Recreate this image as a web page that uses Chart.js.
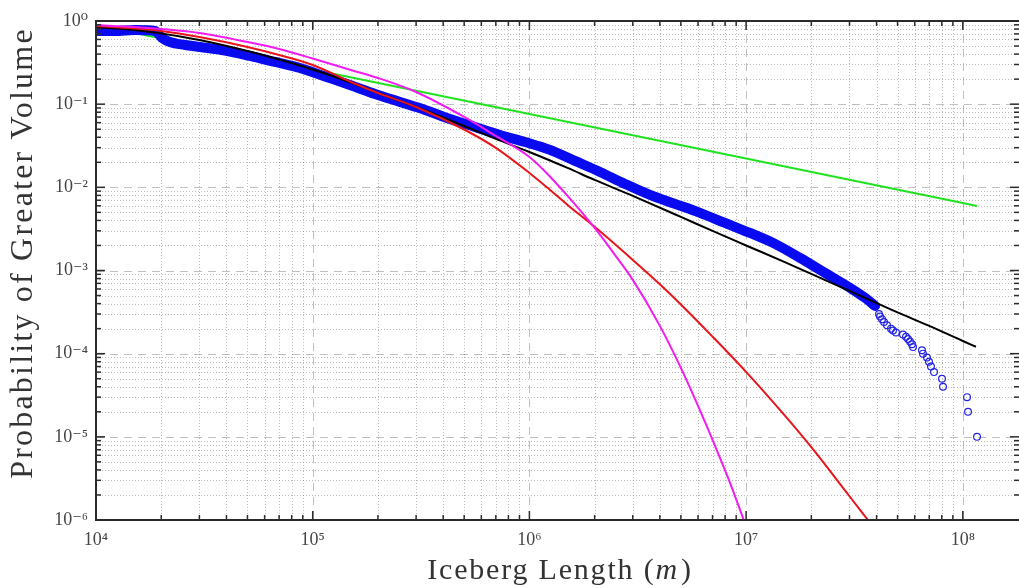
<!DOCTYPE html>
<html><head><meta charset="utf-8">
<script src="https://cdn.jsdelivr.net/npm/chart.js@4.4.1/dist/chart.umd.min.js"></script>
<style>html,body{margin:0;padding:0;background:#fff}#wrap{width:1019px;height:588px}</style>
</head><body><div id="wrap"><canvas id="c" width="1019" height="588"></canvas></div>
<script>
// ---- tick labels ----
const xTickValues = [1e4, 1e5, 1e6, 1e7, 1e8];
const xTickLabels = ['10⁴', '10⁵', '10⁶', '10⁷', '10⁸'];
const yTickValues = [1e-6, 1e-5, 1e-4, 1e-3, 1e-2, 1e-1, 1];
const yTickLabels = ['10⁻⁶', '10⁻⁵', '10⁻⁴', '10⁻³', '10⁻²', '10⁻¹', '10⁰'];
const xTitle = ['Iceberg Length (', 'm', ')'];
const yTitle = 'Probability of Greater Volume';

// ---- empirical data (dense part) ----
const dataLength = [1.0e4, 1.224e4, 1.514e4, 1.872e4, 2.017e4, 2.195e4, 2.575e4, 3.020e4, 3.938e4, 5.136e4,
  6.699e4, 8.738e4, 1.140e5, 1.486e5, 1.939e5, 2.529e5, 3.298e5, 4.301e5, 5.610e5, 7.317e5,
  9.544e5, 1.245e6, 1.623e6, 2.117e6, 2.762e6, 3.602e6, 4.698e6, 6.128e6, 7.992e6, 1.042e7,
  1.360e7, 1.773e7, 2.313e7, 3.017e7, 3.538e7, 3.934e7];
const dataProb = [0.758, 0.758, 0.779, 0.758, 0.625, 0.559, 0.515, 0.487, 0.442, 0.380,
  0.3215, 0.2723, 0.2153, 0.1701, 0.1326, 0.1063, 0.0852, 0.0664, 0.0532, 0.0426,
  0.0351, 0.0282, 0.02077, 0.01531, 0.01099, 0.00810, 0.00632, 0.00493, 0.00373, 0.00283,
  0.00209, 0.001417, 0.000936, 0.000618, 0.000469, 0.000375];

// ---- empirical data (sparse tail) ----
const tailLength = [4.105e7, 4.149e7, 4.238e7, 4.329e7, 4.469e7, 4.664e7, 4.764e7, 4.918e7, 5.297e7, 5.470e7,
  5.587e7, 5.706e7, 5.829e7, 5.891e7, 6.480e7, 6.550e7, 6.834e7, 6.982e7, 7.132e7, 7.364e7,
  8.017e7, 8.103e7, 1.046e8, 1.057e8, 1.163e8];
const tailProb = [3.0e-4, 2.8e-4, 2.6e-4, 2.4e-4, 2.2e-4, 2.0e-4, 1.9e-4, 1.8e-4, 1.7e-4, 1.6e-4,
  1.5e-4, 1.4e-4, 1.3e-4, 1.2e-4, 1.1e-4, 1.0e-4, 9e-5, 8e-5, 7e-5, 6e-5,
  5e-5, 4e-5, 3e-5, 2e-5, 1e-5];

// ---- fitted curves ----
const blackX = [1e4, 1.5e4, 2e4, 3e4, 5e4, 7e4, 1e5, 1.5e5, 2e5, 3e5, 5e5, 7e5, 1e6, 1.5e6, 2e6, 3e6, 5e6, 7e6,
  1e7, 1.5e7, 2e7, 3e7, 5e7, 7e7, 1e8, 1.15e8];
const blackY = [0.847, 0.779, 0.708, 0.591, 0.436, 0.3445, 0.2613, 0.1823, 0.1363, 0.0925, 0.0547, 0.0382,
  0.0266, 0.0171, 0.01227, 0.00788, 0.00441, 0.00299, 0.00200, 0.00127, 0.000910, 0.000569, 0.000313,
  0.000216, 0.000142, 0.000121];

const redX = [1e4, 1.5e4, 2e4, 3e4, 5e4, 7e4, 1e5, 1.5e5, 2e5, 3e5, 5e5, 7e5, 1e6, 1.2e6, 1.5e6, 2e6, 3e6, 4e6, 5e6, 7e6,
  1e7, 1.5e7, 2e7, 3e7, 3.65e7];
const redY = [0.871, 0.813, 0.758, 0.642, 0.487, 0.390, 0.296, 0.1849, 0.1363, 0.0925, 0.0496, 0.0298,
  0.0149, 0.0101, 0.00614, 0.00335, 0.00134, 0.000683, 0.000391, 0.0001605, 6.04e-5, 1.833e-5, 7.50e-6, 1.93e-6, 1e-6];

const magentaX = [1e4, 1.5e4, 2e4, 3e4, 5e4, 7e4, 1e5, 1.5e5, 2e5, 3e5, 5e5, 7e5, 1e6, 1.2e6, 1.5e6, 2e6, 2.5e6, 3e6,
  4e6, 5e6, 6e6, 7e6, 8.5e6, 9.75e6];
const magentaY = [0.895, 0.847, 0.801, 0.718, 0.559, 0.461, 0.354, 0.2577, 0.2065, 0.1401, 0.0702, 0.0415,
  0.0232, 0.0149, 0.00788, 0.00325, 0.0015, 0.000771, 0.000216, 6.75e-5, 2.36e-5, 9.20e-6, 2.65e-6, 1e-6];

const greenX = [1e4, 1e5, 1e6, 1e7, 1e8, 1.163e8];
const greenY = [0.895, 0.261, 0.0762, 0.0222, 0.00649, 0.00598];

const X_MIN = 1e4, X_MAX = 1.817e8, Y_MIN = 1e-6, Y_MAX = 1;

const pts = (xs, ys) => xs.map((x, i) => ({x: x, y: ys[i]}));

const SERIF = '"Liberation Serif", "DejaVu Serif", serif';

function minorValues(minExp, maxExp, lo, hi) {
  const out = [];
  for (let e = minExp; e <= maxExp; e++) {
    for (let m = 2; m <= 9; m++) {
      const v = m * Math.pow(10, e);
      if (v > lo && v < hi) out.push(v);
    }
  }
  return out;
}

const axesPlugin = {
  id: 'matlabAxes',
  beforeDatasetsDraw(chart) {
    const {ctx, chartArea: a, scales: {x, y}} = chart;
    ctx.save();
    ctx.beginPath(); ctx.rect(a.left, a.top, a.right - a.left, a.bottom - a.top); ctx.clip();
    ctx.lineWidth = 1;
    ctx.strokeStyle = 'rgba(120,120,120,0.5)';
    ctx.setLineDash([1, 2]);
    minorValues(4, 8, X_MIN, X_MAX).forEach(v => {
      const p = Math.round(x.getPixelForValue(v)) + 0.5;
      ctx.beginPath(); ctx.moveTo(p, a.top); ctx.lineTo(p, a.bottom); ctx.stroke();
    });
    minorValues(-6, -1, Y_MIN, Y_MAX).forEach(v => {
      const p = Math.round(y.getPixelForValue(v)) + 0.5;
      ctx.beginPath(); ctx.moveTo(a.left, p); ctx.lineTo(a.right, p); ctx.stroke();
    });
    ctx.strokeStyle = 'rgba(150,150,150,0.6)';
    ctx.setLineDash([8, 6]);
    xTickValues.forEach(v => {
      const p = Math.round(x.getPixelForValue(v)) + 0.5;
      ctx.beginPath(); ctx.moveTo(p, a.top); ctx.lineTo(p, a.bottom); ctx.stroke();
    });
    yTickValues.forEach(v => {
      const p = Math.round(y.getPixelForValue(v)) + 0.5;
      ctx.beginPath(); ctx.moveTo(a.left, p); ctx.lineTo(a.right, p); ctx.stroke();
    });
    ctx.restore();
  },
  afterDatasetsDraw(chart) {
    const {ctx, chartArea: a, scales: {x, y}} = chart;
    ctx.save();
    ctx.setLineDash([]);
    ctx.strokeStyle = '#2b2b2b';
    ctx.lineWidth = 1.5;
    const tick = (x1, y1, x2, y2) => { ctx.beginPath(); ctx.moveTo(x1, y1); ctx.lineTo(x2, y2); ctx.stroke(); };
    const MAJ = 9, MIN = 5;
    xTickValues.forEach(v => { const p = x.getPixelForValue(v); tick(p, a.bottom, p, a.bottom - MAJ); tick(p, a.top, p, a.top + MAJ); });
    minorValues(4, 8, X_MIN, X_MAX).forEach(v => { const p = x.getPixelForValue(v); tick(p, a.bottom, p, a.bottom - MIN); tick(p, a.top, p, a.top + MIN); });
    yTickValues.forEach(v => { const p = y.getPixelForValue(v); tick(a.left, p, a.left + MAJ, p); tick(a.right, p, a.right - MAJ, p); });
    minorValues(-6, -1, Y_MIN, Y_MAX).forEach(v => { const p = y.getPixelForValue(v); tick(a.left, p, a.left + MIN, p); tick(a.right, p, a.right - MIN, p); });
    ctx.lineWidth = 2;
    ctx.beginPath();
    ctx.moveTo(a.right + 2, a.top); ctx.lineTo(a.left, a.top); ctx.lineTo(a.left, a.bottom); ctx.lineTo(a.right + 2, a.bottom);
    ctx.stroke();
    ctx.restore();
  },
  afterDraw(chart) {
    const {ctx} = chart;
    ctx.save();
    ctx.fillStyle = '#333';
    ctx.letterSpacing = '1.8px';
    ctx.textBaseline = 'alphabetic';
    ctx.textAlign = 'left';
    const upright = '30px ' + SERIF, ital = 'italic 30px ' + SERIF;
    ctx.font = upright; const w1 = ctx.measureText(xTitle[0]).width, w3 = ctx.measureText(xTitle[2]).width;
    ctx.font = ital; const w2 = ctx.measureText(xTitle[1]).width + 2;
    const sx = 560 - (w1 + w2 + w3) / 2; const by = 579;
    ctx.font = upright; ctx.fillText(xTitle[0], sx, by);
    ctx.font = ital; ctx.fillText(xTitle[1], sx + w1, by);
    ctx.font = upright; ctx.fillText(xTitle[2], sx + w1 + w2, by);
    ctx.font = '32px ' + SERIF;
    ctx.letterSpacing = '2.2px';
    ctx.textAlign = 'center';
    ctx.textBaseline = 'middle';
    ctx.translate(24, 253);
    ctx.rotate(-Math.PI / 2);
    ctx.fillText(yTitle, 0, 0);
    ctx.restore();
  }
};

const fitLine = {showLine: true, borderWidth: 2, pointRadius: 0, fill: false, cubicInterpolationMode: 'monotone'};

new Chart(document.getElementById('c'), {
  type: 'scatter',
  data: {
    datasets: [
      Object.assign({label: 'Magenta fit', data: pts(magentaX, magentaY), borderColor: '#f21cf2'}, fitLine),
      Object.assign({label: 'Red fit', data: pts(redX, redY), borderColor: '#e8151b'}, fitLine),
      Object.assign({label: 'Black fit', data: pts(blackX, blackY), borderColor: '#000000'}, fitLine),
      {label: 'Data tail', data: pts(tailLength, tailProb), showLine: false, pointStyle: 'circle', pointRadius: 3.4, pointBorderWidth: 1.2, borderColor: '#2323e6', backgroundColor: 'rgba(0,0,0,0)'},
      {label: 'Data', data: pts(dataLength, dataProb), showLine: true, borderColor: '#0a0af0', borderWidth: 10, borderCapStyle: 'round', borderJoinStyle: 'round', pointRadius: 0, fill: false, cubicInterpolationMode: 'monotone'},
      Object.assign({label: 'Green fit', data: pts(greenX, greenY), borderColor: '#1fe31f'}, fitLine)
    ]
  },
  options: {
    responsive: false,
    animation: false,
    layout: {autoPadding: false, padding: {left: 0, right: 0, top: 21, bottom: 0}},
    plugins: {legend: {display: false}, tooltip: {enabled: false}},
    scales: {
      x: {
        type: 'logarithmic', min: X_MIN, max: X_MAX,
        grid: {display: false, drawTicks: false},
        border: {display: false},
        afterBuildTicks: s => { s.ticks = xTickValues.map(v => ({value: v})); },
        afterFit: s => { s.height = 68; s.paddingLeft = 0; s.paddingRight = 0; },
        ticks: {
          callback: v => { const i = xTickValues.indexOf(v); return i >= 0 ? xTickLabels[i] : ''; },
          font: {family: SERIF, size: 18}, color: '#444', padding: 9, maxRotation: 0, autoSkip: false
        }
      },
      y: {
        type: 'logarithmic', min: Y_MIN, max: Y_MAX,
        grid: {display: false, drawTicks: false},
        border: {display: false},
        afterBuildTicks: s => { s.ticks = yTickValues.map(v => ({value: v})); },
        afterFit: s => { s.width = 96; s.paddingTop = 0; s.paddingBottom = 0; },
        ticks: {
          callback: v => { const i = yTickValues.indexOf(v); return i >= 0 ? yTickLabels[i] : ''; },
          font: {family: SERIF, size: 18}, color: '#444', padding: 8, autoSkip: false
        }
      }
    }
  },
  plugins: [axesPlugin]
});
</script></body></html>
